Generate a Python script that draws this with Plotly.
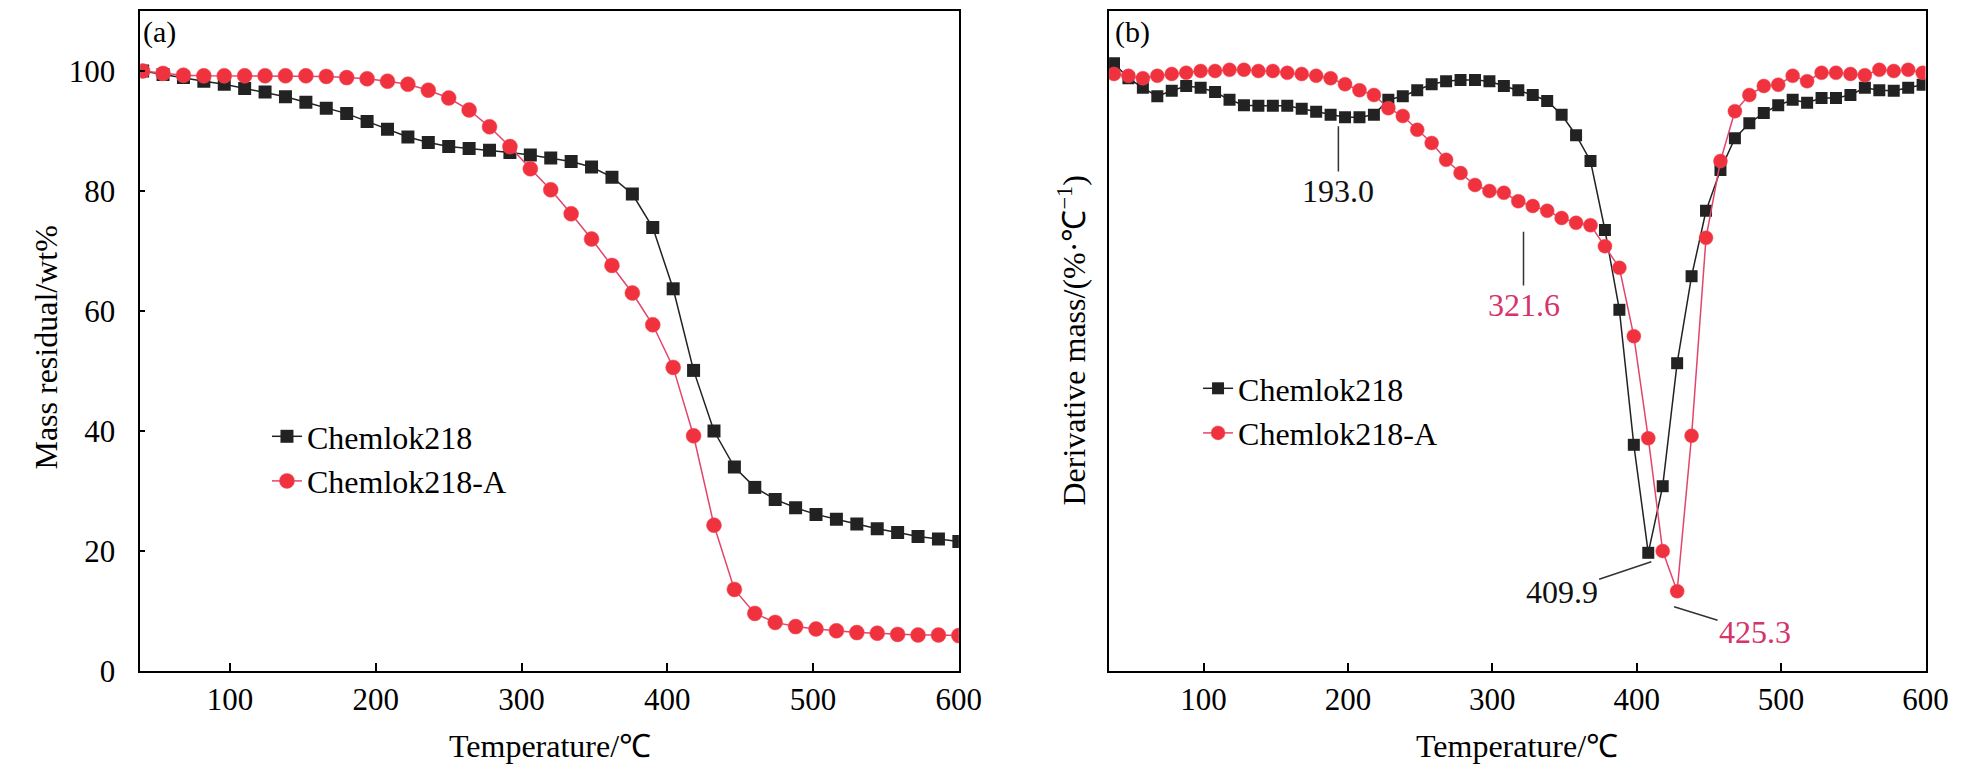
import plotly.graph_objects as go

# ---------------- data ----------------
# (a) TGA
tga_temp = [40, 54, 68, 82, 96, 110, 124, 138, 152, 166, 180, 194, 208, 222, 236, 250, 264, 278, 292, 306,
            320, 334, 348, 362, 376, 390, 404, 418, 432, 446, 460, 474, 488, 502, 516, 530, 544, 558, 572, 586, 600]
tga_c218 = [100.0, 99.4, 98.9, 98.3, 97.8, 97.1, 96.5, 95.7, 94.8, 93.8, 92.9, 91.6, 90.3, 89.0, 88.1, 87.4, 87.1,
            86.8, 86.4, 86.0, 85.5, 84.9, 84.0, 82.3, 79.5, 73.9, 63.7, 50.1, 40.0, 34.0, 30.6, 28.6, 27.2, 26.1,
            25.3, 24.5, 23.7, 23.1, 22.4, 22.0, 21.6]
tga_c218a = [100.0, 99.6, 99.3, 99.2, 99.2, 99.2, 99.2, 99.2, 99.2, 99.1, 98.9, 98.7, 98.3, 97.8, 96.8, 95.5, 93.5,
             90.7, 87.4, 83.7, 80.2, 76.2, 72.0, 67.6, 63.0, 57.7, 50.6, 39.2, 24.3, 13.6, 9.6, 8.1, 7.4, 7.0, 6.7,
             6.4, 6.3, 6.1, 6.0, 6.0, 5.9]

# (b) DTG (arbitrary units, no y tick labels in the original)
dtg_temp = [38, 48, 58, 68, 78, 88, 98, 108, 118, 128, 138, 148, 158, 168, 178, 188, 198, 208, 218, 228,
            238, 248, 258, 268, 278, 288, 298, 308, 318, 328, 338, 348, 358, 368, 378, 388, 398, 408, 418, 428,
            438, 448, 458, 468, 478, 488, 498, 508, 518, 528, 538, 548, 558, 568, 578, 588, 598]
dtg_c218 = [101.3, 98.8, 97.2, 95.8, 96.7, 97.5, 97.2, 96.5, 95.2, 94.3, 94.2, 94.2, 94.2, 93.7, 93.2, 92.7, 92.3,
            92.3, 92.7, 95.2, 95.8, 96.8, 97.8, 98.3, 98.5, 98.5, 98.3, 97.5, 96.8, 96.0, 95.0, 92.7, 89.3, 85.0,
            73.5, 60.2, 37.7, 19.7, 30.8, 51.3, 65.8, 76.7, 83.5, 88.8, 91.3, 93.0, 94.3, 95.2, 94.7, 95.5, 95.5,
            96.0, 97.2, 96.8, 96.7, 97.2, 97.7]
dtg_c218a = [99.5, 99.2, 98.8, 99.2, 99.5, 99.7, 100.0, 100.0, 100.2, 100.2, 100.0, 100.0, 99.7, 99.5, 99.2, 98.8,
             97.8, 96.8, 96.0, 93.8, 92.5, 90.2, 88.0, 85.2, 83.0, 81.0, 80.0, 79.7, 78.3, 77.5, 76.7, 75.5, 74.7,
             74.3, 70.8, 67.2, 55.8, 38.8, 20.0, 13.3, 39.2, 72.2, 85.0, 93.3, 96.0, 97.5, 97.7, 99.2, 98.3, 99.7,
             99.7, 99.5, 99.3, 100.2, 100.0, 100.2, 99.7]

series_names = ["Chemlok218", "Chemlok218-A"]
tick_vals_x = [100, 200, 300, 400, 500, 600]
tick_vals_y = [0, 20, 40, 60, 80, 100]

# peak annotations: label, x (peak), y tip, text x, text y, color
peaks = [
    ("193.0", 193.4, 90.8, 193.4, 80.0, "#111111"),
    ("321.6", 321.6, 73.2, 321.6, 61.0, "#D6336B"),
    ("409.9", 410.1, 18.2, 348.0, 13.2, "#111111"),
    ("425.3", 425.9, 10.7, 482.0, 6.5, "#D6336B"),
]

# ---------------- style ----------------
FONT = "Liberation Serif"
BLACK = "#222222"
RED = "#F0323F"
RED_LINE = "#E2456C"

fig = go.Figure()

def add_pair(x, y1, y2, xa, ya, legend, msize):
    fig.add_trace(go.Scatter(
        x=x, y=y1, name=series_names[0], mode="lines+markers", xaxis=xa, yaxis=ya, legend=legend,
        line=dict(color=BLACK, width=1.5),
        marker=dict(symbol="square", size=msize, color=BLACK)))
    fig.add_trace(go.Scatter(
        x=x, y=y2, name=series_names[1], mode="lines+markers", xaxis=xa, yaxis=ya, legend=legend,
        line=dict(color=RED_LINE, width=1.5),
        marker=dict(symbol="circle", size=msize + 2, color=RED, line=dict(color="#F0505A", width=0.5))))

add_pair(tga_temp, tga_c218, tga_c218a, "x", "y", "legend", 13)
add_pair(dtg_temp, dtg_c218, dtg_c218a, "x2", "y2", "legend2", 12)

W, H = 1984, 768
line_style = dict(showline=True, linecolor="black", linewidth=2, mirror=True, showgrid=False, zeroline=False)
tick_style = dict(ticks="inside", tickwidth=1.5, tickcolor="black",
                  tickfont=dict(family=FONT, size=31, color="black"))

fig.update_layout(
    width=W, height=H,
    margin=dict(l=0, r=0, t=3, b=105),
    paper_bgcolor="white", plot_bgcolor="white",
    font=dict(family=FONT, size=32, color="black"),
    xaxis=dict(domain=[134 / W, 962 / W], range=[38.5, 600], tickvals=tick_vals_x, ticklen=8,
               ticklabelstandoff=0, **line_style, **tick_style),
    yaxis=dict(range=[0, 110], tickvals=tick_vals_y, ticklabelstandoff=17, ticklen=5,
               **line_style, **tick_style),
    xaxis2=dict(domain=[1114 / W, 1940 / W], range=[34.6, 600], tickvals=tick_vals_x, anchor="y2", ticklen=8,
                ticklabelstandoff=0, **line_style, **tick_style),
    yaxis2=dict(range=[0, 110], anchor="x2", showticklabels=False, ticks="", **line_style),
    legend=dict(x=262 / W, xanchor="left", y=(663 - 401) / 660, yanchor="top",
                bgcolor="rgba(0,0,0,0)", font=dict(family=FONT, size=32), tracegroupgap=0),
    legend2=dict(x=1204 / W, xanchor="left", y=(663 - 353) / 660, yanchor="top",
                 bgcolor="rgba(0,0,0,0)", font=dict(family=FONT, size=32), tracegroupgap=0),
    showlegend=True,
)

def paper_text(text, px, py, size=32, angle=0):
    return dict(text=text, x=px / W, y=(663 - py) / 660, xref="paper", yref="paper", showarrow=False,
                xanchor="center", yanchor="middle", textangle=angle, font=dict(family=FONT, size=size))

annots = [
    paper_text("(a)", 153, 24, 30),
    paper_text("(b)", 1138, 24, 30),
    paper_text("Temperature/℃", 548, 738),
    paper_text("Temperature/℃", 1527, 738),
    paper_text("Mass residual/wt%", 38, 340, angle=-90),
    paper_text("Derivative mass/(%·℃<sup>−1</sup>)", 1076, 333, angle=-90),
]
for label, px, py, tx, ty, col in peaks:
    annots.append(dict(text=label, x=px, y=py, ax=tx, ay=ty, xref="x2", yref="y2", axref="x2", ayref="y2",
                       showarrow=True, arrowhead=0, arrowwidth=1.5, arrowcolor="#333333",
                       font=dict(family=FONT, size=32, color=col)))
fig.update_layout(annotations=annots)

fig.write_html("out.html")
